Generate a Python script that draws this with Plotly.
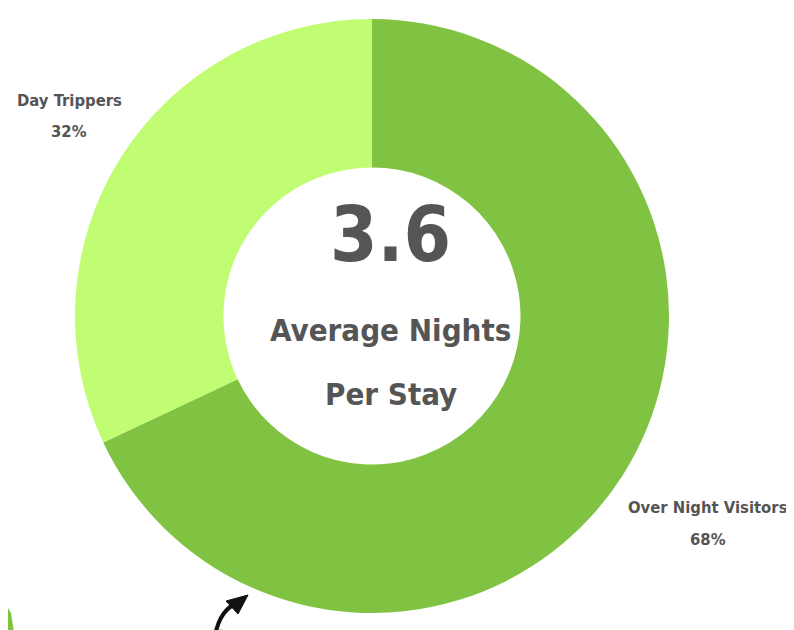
import plotly.graph_objects as go

labels = ["Over Night Visitors", "Day Trippers"]
values = [68, 32]
colors = ["#80c342", "#c0fd73"]
center_value = "3.6"
center_caption = ["Average Nights", "Per Stay"]

W, H = 794, 630

def px(x, y):
    return x / W, 1 - y / H

fig = go.Figure()
fig.add_trace(go.Pie(
    labels=labels, values=values, hole=0.5,
    marker=dict(colors=colors, line=dict(width=0)),
    textinfo="none", sort=False, direction="clockwise", rotation=0,
    showlegend=False, hoverinfo="label+percent",
    domain=dict(x=[67 / W, 661 / W], y=[1 - 605 / H, 1 - 11 / H]),
))

FONT = "DejaVu Sans Condensed, Liberation Sans Narrow, Arial Narrow, sans-serif"
GREY = "#555555"
ann = []

def text(x, y, s, size):
    ax, ay = px(x, y)
    ann.append(dict(x=ax, y=ay, text="<b>%s</b>" % s, showarrow=False,
                    font=dict(family=FONT, size=size, color=GREY),
                    xanchor="center", yanchor="middle"))

text(382, 226, center_value, 76)
text(382, 322, center_caption[0], 31)
text(383, 386, center_caption[1], 31)

label_pos = {"Day Trippers": (61, 92), "Over Night Visitors": (700, 499)}
tot = sum(values)
for lab, val in zip(labels, values):
    lx, ly = label_pos[lab]
    text(lx, ly, lab, 16.5)
    text(lx, ly + 32, "%d%%" % round(100 * val / tot), 16.5)

def path(points):
    s = ""
    for i, (a, b) in enumerate(points):
        x, y = px(a, b)
        s += ("M" if i == 0 else "L") + " %.4f %.4f " % (x, y)
    return s

shapes = [
    dict(type="path", xref="paper", yref="paper",
         path="M %.4f %.4f Q %.4f %.4f %.4f %.4f" % (*px(207, 628), *px(212, 600), *px(232, 594)),
         line=dict(color="#111111", width=4)),
    dict(type="path", xref="paper", yref="paper",
         path=path([(240, 587), (218, 593), (230, 606)]) + "Z",
         fillcolor="#111111", line=dict(color="#111111", width=1)),
    dict(type="path", xref="paper", yref="paper",
         path="M %.4f %.4f Q %.4f %.4f %.4f %.4f" % (*px(196, 632), *px(210, 618), *px(224, 628)),
         line=dict(color="#111111", width=4)),
    dict(type="path", xref="paper", yref="paper",
         path=path([(0, 600), (3, 605), (7, 630), (0, 630)]) + "Z",
         fillcolor="#80c342", line=dict(width=0)),
]

fig.update_layout(
    width=W, height=H, margin=dict(l=0, r=0, t=0, b=0),
    paper_bgcolor="white", plot_bgcolor="white",
    annotations=ann, shapes=shapes,
)
fig.write_html("out.html")
